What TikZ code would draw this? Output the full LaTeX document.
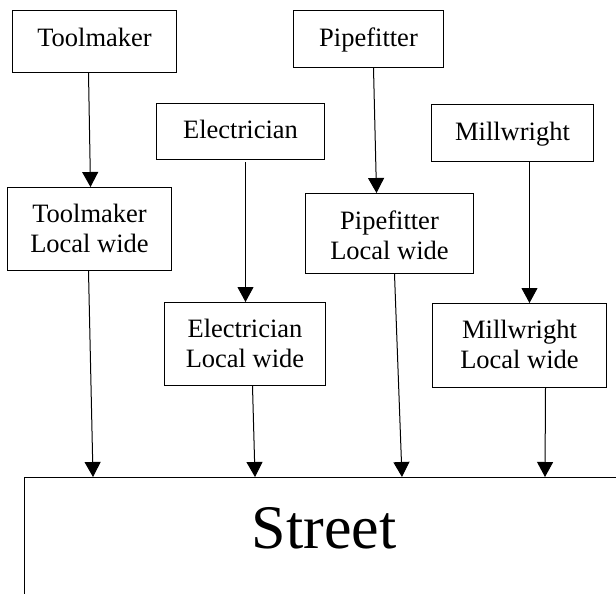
\documentclass[tikz,border=0pt]{standalone}
\usepackage{fontspec}
\setmainfont{Liberation Serif}
\usetikzlibrary{arrows.meta}

\tikzset{
  trade/.style={draw, line width=1pt, inner sep=0pt, anchor=north west,
    font=\fontsize{26.5}{30}\selectfont},
  flow/.style={draw, line width=1pt, -{Triangle[width=16pt,length=15pt]}},
  street/.style={draw, line width=1pt, inner sep=0pt, anchor=north west,
    font=\fontsize{62}{70}\selectfont}
}
\newcommand{\twoline}[2]{\begin{tabular}[t]{@{}c@{}}#1\\#2\end{tabular}}

\begin{document}
\begin{tikzpicture}[x=1pt, y=-1pt]
  \useasboundingbox (0,0) rectangle (616,594);
  \clip (0,0) rectangle (616,594);

  % trades
  \node[trade, minimum width=164pt, text height=36pt, text depth=26pt] (tm) at (12,10) {Toolmaker};
  \node[trade, minimum width=168pt, text height=35pt, text depth=21pt] (el) at (156,103) {Electrician};
  \node[trade, minimum width=150pt, text height=36pt, text depth=21pt] (pf) at (293,10) {Pipe\/fitter};
  \node[trade, minimum width=162pt, text height=36pt, text depth=21pt] (mw) at (431,104) {Millwright};

  % local-wide groupings
  \node[trade, minimum width=164pt, text height=35pt, text depth=48pt] (tlw) at (7,187) {\twoline{Toolmaker}{Local wide}};
  \node[trade, minimum width=161pt, text height=35pt, text depth=48pt] (elw) at (164,302) {\twoline{Electrician}{Local wide}};
  \node[trade, minimum width=168pt, text height=36pt, text depth=44pt] (plw) at (305,193) {\twoline{Pipe\/fitter}{Local wide}};
  \node[trade, minimum width=174pt, text height=35pt, text depth=49pt] (mlw) at (432,303) {\twoline{Millwright}{Local wide}};

  % street level (runs off the page to the right and bottom)
  \node[street, minimum width=599pt, text height=71pt, text depth=80pt] (st) at (24,477) {Street};

  % trade -> local wide
  \draw[flow] ([xshift=-6pt]tm.south) -- ([xshift=1pt]tlw.north);
  \draw[flow] ([xshift=5pt,yshift=-2pt]el.south) -- ([xshift=0.5pt]elw.north);
  \draw[flow] ([xshift=5pt]pf.south) -- ([xshift=-13pt]plw.north);
  \draw[flow] ([xshift=17pt]mw.south) -- ([xshift=10pt]mlw.north);

  % local wide -> street
  \draw[flow] ([xshift=-1pt]tlw.south) -- ([xshift=69pt]st.north west);
  \draw[flow] ([xshift=7.5pt]elw.south) -- ([xshift=231pt]st.north west);
  \draw[flow] ([xshift=5pt]plw.south) -- ([xshift=378pt]st.north west);
  \draw[flow] ([xshift=26pt]mlw.south) -- ([xshift=521pt]st.north west);
\end{tikzpicture}
\end{document}
